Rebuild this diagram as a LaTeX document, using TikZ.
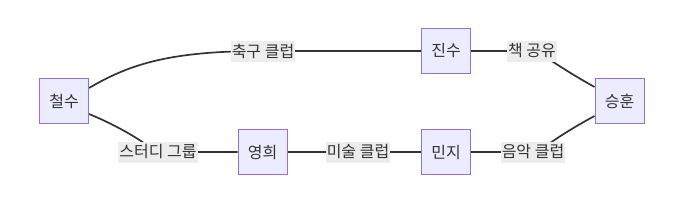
\documentclass[tikz,border=0pt]{standalone}
\usepackage{fontspec}
\setmainfont{Noto Sans CJK KR}
\usetikzlibrary{backgrounds}
\definecolor{nodefill}{HTML}{ECECFF}
\definecolor{nodeline}{HTML}{9370DB}
\definecolor{edgecol}{HTML}{333333}
\definecolor{labfill}{HTML}{EDEDED}
\tikzset{
  person/.style={draw=nodeline, fill=nodefill, line width=1pt, minimum width=49pt, minimum height=45pt, inner sep=0pt, font=\fontsize{16pt}{18pt}\selectfont, text=edgecol},
  elabel/.style={fill=labfill, inner xsep=1pt, inner ysep=0pt, minimum height=21pt, font=\fontsize{16pt}{18pt}\selectfont, text=edgecol},
  link/.style={draw=edgecol, line width=1.7pt}
}
\begin{document}
\begin{tikzpicture}[x=1pt,y=-1pt]
\useasboundingbox (0,0) rectangle (687,210);
\node[person] (cs) at (64,101) {철수};
\node[person] (js) at (446,51) {진수};
\node[person] (sh) at (619.5,101) {승훈};
\node[person] (yh) at (262.5,152) {영희};
\node[person] (mj) at (446,152) {민지};
\node[elabel] (l1) at (263,51) {축구 클럽};
\node[elabel] (l2) at (532,51) {책 공유};
\node[elabel] (l3) at (158,152) {스터디 그룹};
\node[elabel] (l4) at (358,152) {미술 클럽};
\node[elabel] (l5) at (533,152) {음악 클럽};
\begin{scope}[on background layer]
\draw[link] ([yshift=13pt]cs.east) .. controls (130,64) and (170,51) .. (l1.center) -- (js.west);
\draw[link] (js.east) -- (l2.center) .. controls (540,51) and (550,62) .. ([yshift=14pt]sh.west);
\draw[link] ([yshift=-15pt]sh.west) .. controls (550,140) and (541,152) .. (l5.center) -- (mj.west);
\draw[link] (mj.west) -- (l4.center) -- (yh.east);
\draw[link] (yh.west) -- (l3.center) .. controls (155,152) and (135,133) .. ([yshift=-13pt]cs.east);
\end{scope}
\end{tikzpicture}
\end{document}
